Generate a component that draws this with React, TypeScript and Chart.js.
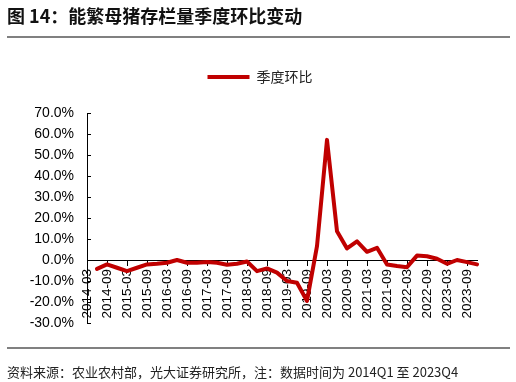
import React, { useEffect, useRef } from "react";
import { Chart, registerables } from "chart.js";

Chart.register(...registerables);

const categories = [
  "2014-03", "2014-06", "2014-09", "2014-12",
  "2015-03", "2015-06", "2015-09", "2015-12",
  "2016-03", "2016-06", "2016-09", "2016-12",
  "2017-03", "2017-06", "2017-09", "2017-12",
  "2018-03", "2018-06", "2018-09", "2018-12",
  "2019-03", "2019-06", "2019-09", "2019-12",
  "2020-03", "2020-06", "2020-09", "2020-12",
  "2021-03", "2021-06", "2021-09", "2021-12",
  "2022-03", "2022-06", "2022-09", "2022-12",
  "2023-03", "2023-06", "2023-09", "2023-12",
];

const qoqChange: (number | null)[] = [
  null, -4.2, -2.1, -3.7,
  -5.3, -3.7, -2.1, -1.8,
  -1.3, 0.0, -1.3, -1.3,
  -1.0, -1.3, -2.3, -1.8,
  -0.7, -5.3, -4.0, -6.0,
  -10.0, -10.8, -19.5, 6.6,
  57.2, 13.7, 5.5, 8.9,
  3.9, 5.8, -2.1, -2.9,
  -3.4, 2.1, 1.8, 0.6,
  -1.8, 0.0, -1.0, -2.1,
];

const seriesName = "季度环比";
const yMin = -30;
const yMax = 70;
const yStep = 10;

const titleText = "图 14：能繁母猪存栏量季度环比变动";
const sourceText = "资料来源：农业农村部，光大证券研究所，注：数据时间为 2014Q1 至 2023Q4";

const innerYTicks = {
  id: "innerYTicks",
  afterDraw(chart: any) {
    const ys = chart.scales.y;
    const ctx = chart.ctx;
    ctx.save();
    ctx.strokeStyle = "#000";
    ctx.lineWidth = 1;
    ys.ticks.forEach((t: any) => {
      const py = Math.round(ys.getPixelForValue(t.value)) + 0.5;
      ctx.beginPath();
      ctx.moveTo(ys.right, py);
      ctx.lineTo(ys.right + 4, py);
      ctx.stroke();
    });
    ctx.restore();
  },
};

export default function App() {
  const ref = useRef<HTMLCanvasElement>(null);

  useEffect(() => {
    if (!ref.current) return;
    const chart = new Chart(ref.current, {
      type: "line",
      data: {
        labels: categories,
        datasets: [
          {
            label: seriesName,
            data: qoqChange,
            borderColor: "#C00000",
            backgroundColor: "#C00000",
            borderWidth: 4,
            pointRadius: 0,
            pointHoverRadius: 0,
            tension: 0,
            borderJoinStyle: "round",
            borderCapStyle: "round",
            yAxisID: "y",
          },
        ],
      },
      options: {
        animation: false,
        responsive: false,
        maintainAspectRatio: false,
        layout: { padding: { top: 51, left: 4, right: 0, bottom: 59 } },
        plugins: {
          legend: {
            display: true,
            position: "top",
            labels: {
              usePointStyle: true,
              pointStyle: "line",
              pointStyleWidth: 42,
              padding: 19,
              color: "#222",
              font: { family: "'Noto Sans CJK SC', sans-serif", size: 14 },
            },
          },
          subtitle: {
            display: true,
            text: "",
            position: "top",
            weight: 500,
            padding: 0,
            font: { size: 19, lineHeight: 1 },
          },
          tooltip: { enabled: false },
        },
        scales: {
          x: {
            type: "category",
            position: { y: 0 },
            offset: false,
            afterFit: (s: any) => {
              s.height = 0;
            },
            grid: {
              display: true,
              drawOnChartArea: false,
              drawTicks: true,
              tickLength: 5,
              color: (c: any) => (c.index % 2 === 0 ? "#000" : "rgba(0,0,0,0)"),
            },
            border: { display: true, color: "#000", width: 1 },
            ticks: {
              autoSkip: false,
              maxRotation: 90,
              minRotation: 90,
              padding: 4,
              color: "#000",
              font: { family: "'Liberation Sans', Arial, sans-serif", size: 13.5 },
              callback: (_v: any, i: number) => (i % 2 === 0 ? categories[i] : ""),
            },
          },
          y: {
            position: "left",
            min: yMin,
            max: yMax,
            afterFit: (s: any) => {
              s.width = 83;
            },
            grid: { display: false, drawTicks: false },
            border: { display: true, color: "#000", width: 1 },
            ticks: {
              stepSize: yStep,
              padding: 13,
              color: "#000",
              font: { family: "'Liberation Sans', Arial, sans-serif", size: 14 },
              callback: (v: any) => Number(v).toFixed(1) + "%",
            },
          },
          yRightSpace: {
            position: "right",
            min: 0,
            max: 1,
            afterFit: (s: any) => {
              s.width = 39;
            },
            grid: { display: false, drawTicks: false },
            border: { display: false },
            ticks: { display: false },
          },
        },
      },
      plugins: [innerYTicks],
    });
    return () => chart.destroy();
  }, []);

  return (
    <div
      style={{
        position: "absolute",
        left: 0,
        top: 0,
        width: 516,
        height: 382,
        background: "#fff",
        overflow: "hidden",
      }}
    >
      <canvas
        ref={ref}
        width={516}
        height={382}
        style={{ position: "absolute", left: 0, top: 0, width: 516, height: 382 }}
      />
      <div
        style={{
          position: "absolute",
          left: 7,
          top: 6,
          fontFamily: "'Noto Sans CJK SC', sans-serif",
          fontWeight: "bold",
          fontSize: 18,
          lineHeight: "18px",
          color: "#111",
          whiteSpace: "nowrap",
        }}
      >
        {titleText}
      </div>
      <div
        style={{
          position: "absolute",
          left: 7,
          top: 36,
          width: 503,
          height: 2,
          background: "#808080",
        }}
      />
      <div
        style={{
          position: "absolute",
          left: 7,
          top: 347,
          width: 503,
          height: 2,
          background: "#808080",
        }}
      />
      <div
        style={{
          position: "absolute",
          left: 7,
          top: 365,
          fontFamily: "'Noto Sans CJK SC', sans-serif",
          fontSize: 13,
          lineHeight: "13px",
          color: "#222",
          whiteSpace: "nowrap",
        }}
      >
        {sourceText}
      </div>
    </div>
  );
}
